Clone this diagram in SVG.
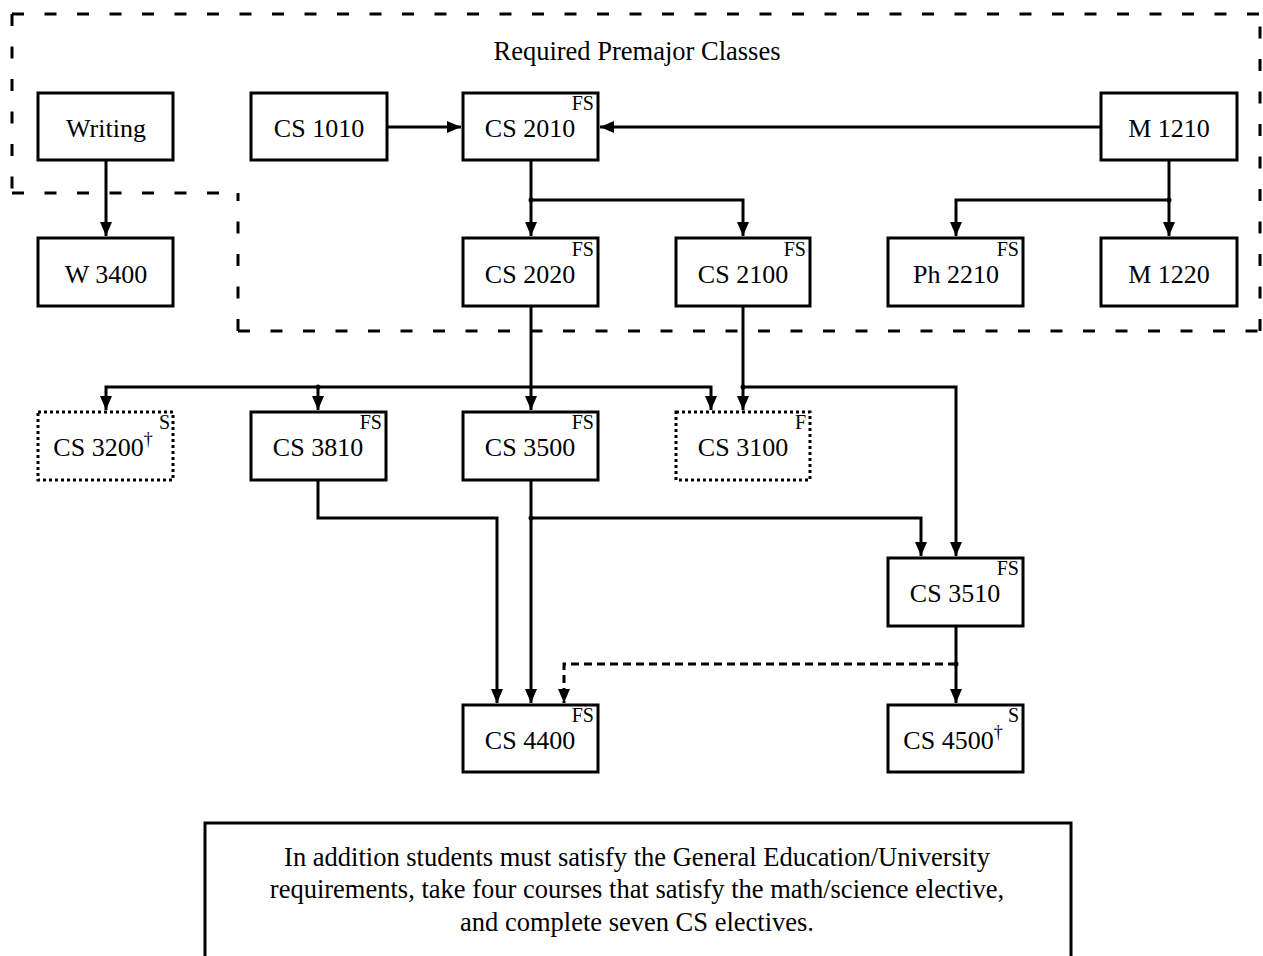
<svg xmlns="http://www.w3.org/2000/svg" width="1263" height="956" viewBox="0 0 1263 956">
<style>
  text { font-family: "Liberation Serif", "Times New Roman", serif; fill: #000; }
  .box { fill: #fff; stroke: #000; stroke-width: 3; }
  .dot { fill: #fff; stroke: #000; stroke-width: 3; stroke-dasharray: 3 3; }
  .lbl { font-size: 26px; text-anchor: middle; }
  .sup { font-size: 20px; text-anchor: end; }
  .note { font-size: 26.5px; text-anchor: middle; }
  .ln { fill: none; stroke: #000; stroke-width: 3; }
  .dash { fill: none; stroke: #000; stroke-width: 3; stroke-dasharray: 8 5; }
  .region { fill: none; stroke: #000; stroke-width: 3; stroke-dasharray: 12 20.5; }
</style>
<defs>
  <marker id="arr" markerUnits="userSpaceOnUse" markerWidth="15" markerHeight="13" refX="14" refY="6" orient="auto">
    <path d="M0,0 L14,6 L0,12 z" fill="#000"/>
  </marker>
</defs>
<rect width="1263" height="956" fill="#fff"/>

<g id="premajor-region">
  <line class="region" x1="12" y1="14" x2="1260" y2="14"/>
  <line class="region" x1="12" y1="14" x2="12" y2="193"/>
  <line class="region" x1="12" y1="193" x2="238" y2="193"/>
  <line class="region" x1="238" y1="331" x2="238" y2="193"/>
  <line class="region" x1="238" y1="331" x2="1260" y2="331"/>
  <line class="region" x1="1260" y1="331" x2="1260" y2="14"/>
  <text x="637" y="60" style="font-size:26.5px;text-anchor:middle">Required Premajor Classes</text>
</g>

<g id="connectors">
  <path class="ln" d="M106,160 L106,236" marker-end="url(#arr)"/>
  <path class="ln" d="M387,127 L461,127" marker-end="url(#arr)"/>
  <path class="ln" d="M1101,127 L600,127" marker-end="url(#arr)"/>
  <path class="ln" d="M531,160 L531,236" marker-end="url(#arr)"/>
  <path class="ln" d="M531,200 L743,200 L743,236" marker-end="url(#arr)"/>
  <path class="ln" d="M1169,160 L1169,236" marker-end="url(#arr)"/>
  <path class="ln" d="M1169,200 L956,200 L956,236" marker-end="url(#arr)"/>
  <path class="ln" d="M531,306 L531,410" marker-end="url(#arr)"/>
  <path class="ln" d="M318,387 L106,387 L106,410" marker-end="url(#arr)"/>
  <path class="ln" d="M318,387 L318,410" marker-end="url(#arr)"/>
  <path class="ln" d="M318,387 L711,387 L711,410" marker-end="url(#arr)"/>
  <path class="ln" d="M743,306 L743,410" marker-end="url(#arr)"/>
  <path class="ln" d="M743,387 L956,387 L956,556" marker-end="url(#arr)"/>
  <path class="ln" d="M318,480 L318,518 L497,518 L497,703" marker-end="url(#arr)"/>
  <path class="ln" d="M531,480 L531,703" marker-end="url(#arr)"/>
  <path class="ln" d="M531,518 L921,518 L921,556" marker-end="url(#arr)"/>
  <path class="ln" d="M956,626 L956,703" marker-end="url(#arr)"/>
  <path class="dash" d="M956,664 L564,664 L564,703" marker-end="url(#arr)"/>
  <circle cx="531" cy="200" r="2.5"/>
  <circle cx="1169" cy="200" r="2.5"/>
  <circle cx="318" cy="387" r="2.5"/>
  <circle cx="743" cy="387" r="2.5"/>
  <circle cx="531" cy="518" r="2.5"/>
  <circle cx="956" cy="664" r="2.5"/>
</g>

<g id="writing"><rect class="box" x="38" y="93" width="135" height="67"/><text class="lbl" x="106" y="137">Writing</text></g>
<g id="cs1010"><rect class="box" x="251" y="93" width="136" height="67"/><text class="lbl" x="319" y="137">CS 1010</text></g>
<g id="cs2010"><rect class="box" x="463" y="93" width="135" height="67"/><text class="lbl" x="530" y="137">CS 2010</text><text class="sup" x="594" y="110">FS</text></g>
<g id="m1210"><rect class="box" x="1101" y="93" width="136" height="67"/><text class="lbl" x="1169" y="137">M 1210</text></g>

<g id="w3400"><rect class="box" x="38" y="238" width="135" height="68"/><text class="lbl" x="106" y="283">W 3400</text></g>
<g id="cs2020"><rect class="box" x="463" y="238" width="135" height="68"/><text class="lbl" x="530" y="283">CS 2020</text><text class="sup" x="594" y="256">FS</text></g>
<g id="cs2100"><rect class="box" x="676" y="238" width="134" height="68"/><text class="lbl" x="743" y="283">CS 2100</text><text class="sup" x="806" y="256">FS</text></g>
<g id="ph2210"><rect class="box" x="888" y="238" width="135" height="68"/><text class="lbl" x="956" y="283">Ph 2210</text><text class="sup" x="1019" y="256">FS</text></g>
<g id="m1220"><rect class="box" x="1101" y="238" width="136" height="68"/><text class="lbl" x="1169" y="283">M 1220</text></g>

<g id="cs3200"><rect class="dot" x="38" y="412" width="135" height="68"/><text class="lbl" x="103" y="456">CS 3200<tspan font-size="18" dy="-11">†</tspan></text><text class="sup" x="170" y="429">S</text></g>
<g id="cs3810"><rect class="box" x="251" y="412" width="135" height="68"/><text class="lbl" x="318" y="456">CS 3810</text><text class="sup" x="382" y="429">FS</text></g>
<g id="cs3500"><rect class="box" x="463" y="412" width="135" height="68"/><text class="lbl" x="530" y="456">CS 3500</text><text class="sup" x="594" y="429">FS</text></g>
<g id="cs3100"><rect class="dot" x="676" y="412" width="134" height="68"/><text class="lbl" x="743" y="456">CS 3100</text><text class="sup" x="806" y="429">F</text></g>

<g id="cs3510"><rect class="box" x="888" y="558" width="135" height="68"/><text class="lbl" x="955" y="602">CS 3510</text><text class="sup" x="1019" y="575">FS</text></g>

<g id="cs4400"><rect class="box" x="463" y="705" width="135" height="67"/><text class="lbl" x="530" y="749">CS 4400</text><text class="sup" x="594" y="722">FS</text></g>
<g id="cs4500"><rect class="box" x="888" y="705" width="135" height="67"/><text class="lbl" x="953" y="749">CS 4500<tspan font-size="18" dy="-11">†</tspan></text><text class="sup" x="1019" y="722">S</text></g>

<g id="note">
  <rect class="box" x="205" y="823" width="866" height="160"/>
  <text class="note" x="637" y="866">In addition students must satisfy the General Education/University</text>
  <text class="note" x="637" y="898">requirements, take four courses that satisfy the math/science elective,</text>
  <text class="note" x="637" y="931">and complete seven CS electives.</text>
</g>
</svg>
